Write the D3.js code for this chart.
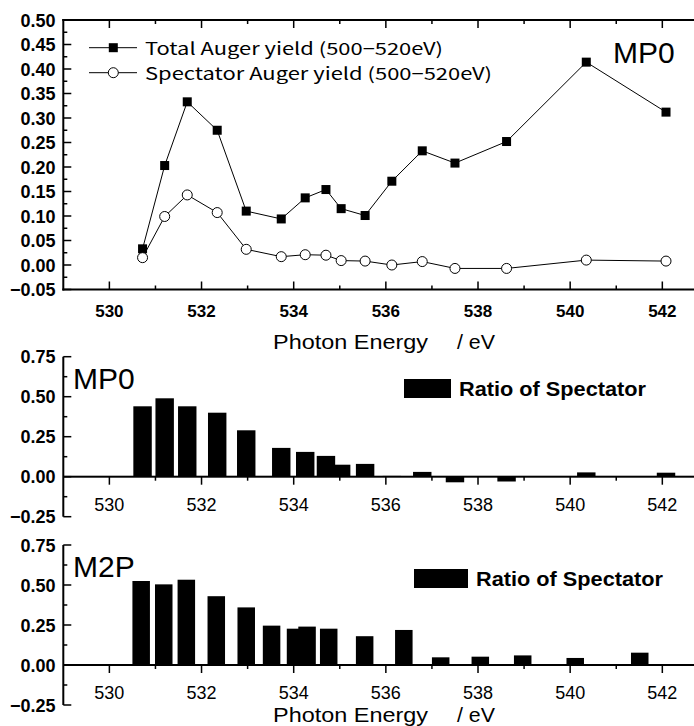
<!DOCTYPE html>
<html>
<head>
<meta charset="utf-8">
<script src="https://cdn.jsdelivr.net/npm/d3@7"></script>
<style>
  body { margin: 0; background: #fff; }
  svg { display: block; }
  text { font-family: "Liberation Sans", Arial, sans-serif; fill: #000; }
</style>
</head>
<body>
<div id="root"></div>
<script>
// photon energies (eV) of the MP0 measurement
var energy = [530.72, 531.20, 531.69, 532.34, 532.97, 533.73, 534.25, 534.70,
              535.03, 535.55, 536.13, 536.79, 537.50, 538.62, 540.35, 542.08];
var totalYield = [0.033, 0.203, 0.333, 0.275, 0.110, 0.094, 0.137, 0.154,
                  0.115, 0.101, 0.171, 0.233, 0.208, 0.252, 0.414, 0.312];
var spectatorYield = [0.015, 0.099, 0.143, 0.107, 0.032, 0.017, 0.021, 0.020,
                      0.009, 0.008, 0.000, 0.007, -0.007, -0.007, 0.010, 0.008];
var mp0Ratio = [0.44, 0.49, 0.44, 0.40, 0.29, 0.18, 0.155, 0.13,
                0.075, 0.08, 0.005, 0.03, -0.035, -0.03, 0.027, 0.025];
// M2P measurement
var m2pEnergy = [530.69, 531.18, 531.67, 532.32, 532.97, 533.52, 534.04, 534.29,
                 534.76, 535.54, 536.39, 537.19, 538.05, 538.97, 540.11, 541.51];
var m2pRatio = [0.525, 0.504, 0.533, 0.43, 0.36, 0.246, 0.227, 0.24,
                0.227, 0.18, 0.219, 0.048, 0.052, 0.06, 0.044, 0.077];

var xTicks = [530, 532, 534, 536, 538, 540, 542];
var xMinor = [531, 533, 535, 537, 539, 541];
var yTicksTop = [-0.05, 0, 0.05, 0.10, 0.15, 0.20, 0.25, 0.30, 0.35, 0.40, 0.45, 0.50];
var yMinorTop = [-0.025, 0.025, 0.075, 0.125, 0.175, 0.225, 0.275, 0.325, 0.375, 0.425, 0.475];
var yTicksBar = [-0.25, 0, 0.25, 0.50, 0.75];
var yMinorBar = [-0.125, 0.125, 0.375, 0.625];
var legendTop = ['Total Auger yield (500\u2212520eV)', 'Spectator Auger yield (500\u2212520eV)'];

var w = 694, h = 726;
var svg = d3.select('#root').append('svg').attr('width', w).attr('height', h);
svg.append('rect').attr('width', w).attr('height', h).attr('fill', '#fff');

var x = d3.scaleLinear().domain([529, 542.72]).range([63.3, 695.5]);
var fmtX = d3.format('d'), fmtY = d3.format('.2f');

// axis lines and tick marks drawn as filled rects
function box(g, x0, y0, x1, y1) {
    g.append('rect')
        .attr('x', Math.min(x0, x1)).attr('y', Math.min(y0, y1))
        .attr('width', Math.max(Math.abs(x1 - x0), 0.1)).attr('height', Math.max(Math.abs(y1 - y0), 0.1))
        .attr('fill', '#000');
}
function xTickMarks(g, vals, yy, len, t) {
    vals.forEach(function (v) { box(g, x(v) - t / 2, yy, x(v) + t / 2, yy + len); });
}
function yTickMarks(g, sc, vals, xx, len, t) {
    vals.forEach(function (v) { box(g, xx, sc(v) - t / 2, xx + len, sc(v) + t / 2); });
}

// ---------- top panel ----------
var y1 = d3.scaleLinear().domain([-0.05, 0.5]).range([289.5, 20]);
var topG = svg.append('g');
var x0 = x(529), yb = y1(-0.05), yt = y1(0.5);

box(topG, x0 - 1, yb - 1, w, yb + 1);
box(topG, x0 - 1, yt - 1, w, yt + 1);
box(topG, x0 - 1, yt - 1, x0 + 1, yb + 1);
xTickMarks(topG, xTicks, yb, -8, 1.5);
xTickMarks(topG, xMinor, yb, -4, 1.5);
xTickMarks(topG, xTicks, yt, 8, 1.5);
xTickMarks(topG, xMinor, yt, 4, 1.5);
yTickMarks(topG, y1, yTicksTop, x0, 8, 1.5);
yTickMarks(topG, y1, yMinorTop, x0, 4, 1.5);

topG.selectAll('.xl').data(xTicks).enter().append('text')
    .attr('x', function (d) { return x(d); }).attr('y', 316.5)
    .attr('text-anchor', 'middle').attr('font-size', 17).attr('font-weight', 'bold')
    .text(fmtX);
topG.selectAll('.yl').data(yTicksTop).enter().append('text')
    .attr('x', 55.5).attr('y', function (d) { return y1(d) + 6.5; })
    .attr('text-anchor', 'end').attr('font-size', 18).attr('font-weight', 'bold')
    .text(fmtY);

var line1 = d3.line().x(function (d) { return x(d[0]); }).y(function (d) { return y1(d[1]); });
var totalPts = d3.zip(energy, totalYield);
var specPts = d3.zip(energy, spectatorYield);

topG.append('path').attr('d', line1(totalPts)).attr('fill', 'none').attr('stroke', '#000').attr('stroke-width', 1);
topG.append('path').attr('d', line1(specPts)).attr('fill', 'none').attr('stroke', '#000').attr('stroke-width', 1);

topG.selectAll('.sq').data(totalPts).enter().append('rect')
    .attr('x', function (d) { return x(d[0]) - 4.5; })
    .attr('y', function (d) { return y1(d[1]) - 4.5; })
    .attr('width', 9).attr('height', 9).attr('fill', '#000');
topG.selectAll('.ci').data(specPts).enter().append('circle')
    .attr('cx', function (d) { return x(d[0]); })
    .attr('cy', function (d) { return y1(d[1]); })
    .attr('r', 5).attr('fill', '#fff').attr('stroke', '#000').attr('stroke-width', 1);

// legend
var lg = topG.append('g');
[47.7, 72.7].forEach(function (ly, i) {
    lg.append('line').attr('x1', 89).attr('x2', 137).attr('y1', ly).attr('y2', ly).attr('stroke', '#000');
    if (i === 0) {
        lg.append('rect').attr('x', 113.3 - 4.5).attr('y', ly - 4.5).attr('width', 9).attr('height', 9).attr('fill', '#000');
    } else {
        lg.append('circle').attr('cx', 113.3).attr('cy', ly).attr('r', 5).attr('fill', '#fff').attr('stroke', '#000');
    }
    lg.append('text').attr('x', 145).attr('y', ly + 7)
        .attr('font-size', 17).style('font-family', '"Noto Sans CJK JP", sans-serif')
        .attr('textLength', i === 0 ? 298 : 347).attr('lengthAdjust', 'spacingAndGlyphs')
        .text(legendTop[i]);
});
topG.append('text').attr('x', 613).attr('y', 63.3).attr('font-size', 30).text('MP0');

function xTitle(yy) {
    svg.append('text').attr('x', 273).attr('y', yy).attr('font-size', 20)
        .attr('textLength', 155).attr('lengthAdjust', 'spacingAndGlyphs').text('Photon Energy');
    svg.append('text').attr('x', 457).attr('y', yy).attr('font-size', 20)
        .attr('textLength', 38).attr('lengthAdjust', 'spacingAndGlyphs').text('/ eV');
}
xTitle(349);

// ---------- bar panels ----------
function barPanel(y0, y75, xs, vals, bw, label, lgx, lgy, lgw) {
    var y = d3.scaleLinear().domain([-0.25, 0.75]).range([y0 + (y0 - y75) / 3, y75]);
    var g = svg.append('g');

    g.selectAll('.bar').data(d3.zip(xs, vals)).enter().append('rect')
        .attr('x', function (d) { return x(d[0] - bw / 2); })
        .attr('width', function (d) { return x(d[0] + bw / 2) - x(d[0] - bw / 2); })
        .attr('y', function (d) { return Math.min(y(d[1]), y(0)); })
        .attr('height', function (d) { return Math.abs(y(d[1]) - y(0)); })
        .attr('fill', '#000');

    box(g, x0, y(0) - 1, w, y(0) + 1);
    box(g, x0 - 1, y(0.75), x0 + 1, y(-0.25));
    xTickMarks(g, xTicks, y(0), 8, 1.5);
    xTickMarks(g, xMinor, y(0), 4, 1.5);
    yTickMarks(g, y, yTicksBar, x0, 8, 1.5);
    yTickMarks(g, y, yMinorBar, x0, 4, 1.5);

    g.selectAll('.xl').data(xTicks).enter().append('text')
        .attr('x', function (d) { return x(d); }).attr('y', y(0) + 34)
        .attr('text-anchor', 'middle').attr('font-size', 18)
        .text(fmtX);
    g.selectAll('.yl').data(yTicksBar).enter().append('text')
        .attr('x', 55.5).attr('y', function (d) { return y(d) + 6.5; })
        .attr('text-anchor', 'end').attr('font-size', 18).attr('font-weight', 'bold')
        .text(fmtY);

    g.append('text').attr('x', 73).attr('y', y75 + 32).attr('font-size', 30).text(label);
    g.append('rect').attr('x', lgx).attr('y', lgy).attr('width', lgw).attr('height', 19).attr('fill', '#000');
    g.append('text').attr('x', lgx + lgw + 8).attr('y', lgy + 17).attr('font-size', 21).attr('font-weight', 'bold')
        .attr('textLength', 187).attr('lengthAdjust', 'spacingAndGlyphs').text('Ratio of Spectator');
}

barPanel(476.7, 356.7, energy, mp0Ratio, 0.40, 'MP0', 404, 379, 47);
barPanel(665, 545, m2pEnergy, m2pRatio, 0.38, 'M2P', 414, 569, 54);

xTitle(722);
</script>
</body>
</html>
